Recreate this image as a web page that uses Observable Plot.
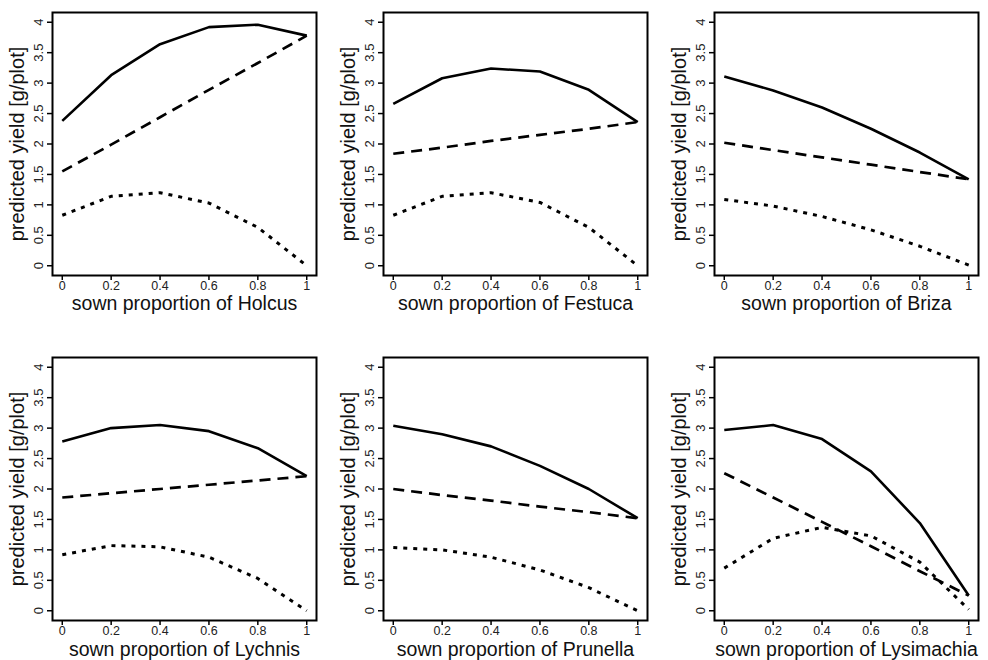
<!DOCTYPE html>
<html>
<head>
<meta charset="utf-8">
<script src="https://cdn.jsdelivr.net/npm/d3@7"></script>
<script src="https://cdn.jsdelivr.net/npm/@observablehq/plot@0.6"></script>
<style>
  html, body { margin: 0; padding: 0; background: #fff; }
  #chart { position: relative; width: 988px; height: 660px; overflow: hidden; background: #fff; }
  #chart svg { position: absolute; }
</style>
</head>
<body>
<div id="chart"></div>
<script>
// ---- data ----
const proportions = [0, 0.2, 0.4, 0.6, 0.8, 1];
const species = ["Holcus", "Festuca", "Briza", "Lychnis", "Prunella", "Lysimachia"];
const xTicks = [0, 0.2, 0.4, 0.6, 0.8, 1];
const yTicks = [0, 0.5, 1, 1.5, 2, 2.5, 3, 3.5, 4];
const yLabel = "predicted yield [g/plot]";
const xLabelPrefix = "sown proportion of ";

// solid line
const solidValues = [
  [2.38, 3.13, 3.64, 3.92, 3.96, 3.78],
  [2.66, 3.08, 3.24, 3.19, 2.89, 2.36],
  [3.11, 2.88, 2.60, 2.25, 1.86, 1.42],
  [2.78, 3.00, 3.05, 2.95, 2.67, 2.21],
  [3.04, 2.90, 2.70, 2.38, 2.00, 1.52],
  [2.97, 3.05, 2.82, 2.29, 1.44, 0.25]
];
// dashed line
const dashedValues = [
  [1.55, 1.99, 2.44, 2.89, 3.33, 3.78],
  [1.84, 1.94, 2.05, 2.15, 2.25, 2.36],
  [2.02, 1.90, 1.78, 1.66, 1.54, 1.42],
  [1.86, 1.93, 2.00, 2.07, 2.14, 2.21],
  [2.00, 1.90, 1.81, 1.71, 1.62, 1.52],
  [2.26, 1.86, 1.46, 1.06, 0.65, 0.25]
];
// dotted line
const dottedValues = [
  [0.83, 1.14, 1.20, 1.03, 0.63, 0.00],
  [0.83, 1.14, 1.20, 1.04, 0.63, 0.00],
  [1.09, 0.98, 0.81, 0.59, 0.32, 0.01],
  [0.92, 1.07, 1.05, 0.88, 0.53, 0.00],
  [1.04, 1.00, 0.88, 0.67, 0.38, 0.00],
  [0.70, 1.19, 1.37, 1.23, 0.80, 0.02]
];

const lineStyles = [
  {values: solidValues, dash: null, width: 2.6},
  {values: dashedValues, dash: "11,7", width: 2.7},
  {values: dottedValues, dash: "4,6", width: 3}
];

const FONT = "'Liberation Sans', Arial, Helvetica, sans-serif";
const chart = document.getElementById("chart");

const colLeft = [0, 331, 662];
const rowTop = [0, 330];
const rowLayout = [{top: 12, bottom: 55, titleDy: 34}, {top: 27, bottom: 40, titleDy: 35}];

species.forEach((name, i) => {
  const row = Math.floor(i / 3), col = i % 3;
  const m = rowLayout[row];
  const marks = [];
  lineStyles.forEach(ls => {
    const data = proportions.map((p, j) => ({p, v: ls.values[i][j]}));
    const opts = {x: "p", y: "v", stroke: "#000", strokeWidth: ls.width, strokeLinecap: "butt", strokeLinejoin: "round"};
    if (ls.dash) opts.strokeDasharray = ls.dash;
    marks.push(Plot.line(data, opts));
  });
  marks.push(Plot.frame({stroke: "#000", strokeWidth: 2}));
  marks.push(Plot.axisX({ticks: xTicks, tickSize: 5, tickPadding: 1, fontSize: 12.5, label: null,
    tickFormat: d => d3.format("~g")(d), fill: "#222", stroke: "#000", strokeWidth: 1.5}));
  marks.push(Plot.axisY({ticks: yTicks, tickSize: 5, tickFormat: () => "", label: null, stroke: "#000", strokeWidth: 1.5}));
  marks.push(Plot.text(yTicks, {y: d => d, text: d => d3.format("~g")(d), frameAnchor: "left", dx: -10,
    rotate: -90, textAnchor: "middle", lineAnchor: "bottom", fontSize: 13, fill: "#222"}));
  marks.push(Plot.text([yLabel], {text: d => d, frameAnchor: "left", dx: -29, rotate: -90,
    textAnchor: "middle", lineAnchor: "bottom", fontSize: 20, fill: "#111"}));
  marks.push(Plot.text([xLabelPrefix + name], {text: d => d, frameAnchor: "bottom", dy: m.titleDy,
    textAnchor: "middle", lineAnchor: "bottom", fontSize: 19.5, fill: "#111"}));

  const svg = Plot.plot({
    width: 326,
    height: 330,
    marginLeft: 52,
    marginRight: 10,
    marginTop: m.top,
    marginBottom: m.bottom,
    style: {fontFamily: FONT, background: "transparent", left: colLeft[col] + "px", top: rowTop[row] + "px", position: "absolute", overflow: "visible"},
    x: {domain: [-0.04, 1.04]},
    y: {domain: [-0.16, 4.16]},
    marks
  });
  chart.appendChild(svg);
});
</script>
</body>
</html>
